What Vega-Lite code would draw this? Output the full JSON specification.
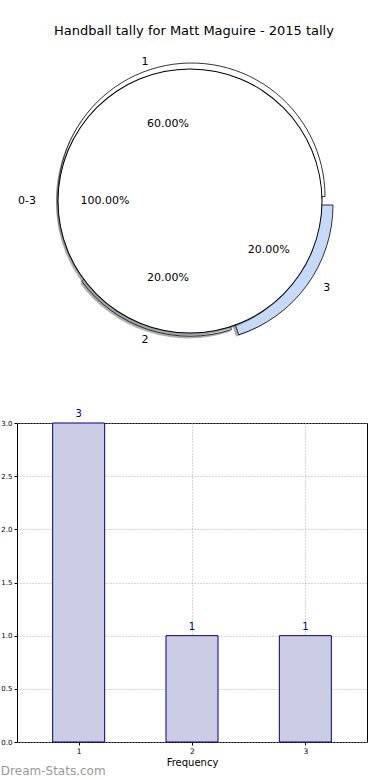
{
  "$schema": "https://vega.github.io/schema/vega-lite/v6.json",
  "padding": {"left": 0, "top": 24, "right": 0, "bottom": 0},
  "bounds": "flush",
  "spacing": 70,
  "config": {"font": "DejaVu Sans", "view": {"stroke": null}},
  "title": {"text": "Handball tally for Matt Maguire - 2015 tally", "fontSize": 13, "fontWeight": "normal", "anchor": "middle", "offset": 0, "dx": 10, "dy": -1, "color": "black"},
  "datasets": {
    "outer": [
      {"label": "1", "count": 3, "pct": "60.00%"},
      {"label": "2", "count": 1, "pct": "20.00%"},
      {"label": "3", "count": 1, "pct": "20.00%"}
    ],
    "inner": [
      {"label": "0-3", "count": 5, "pct": "100.00%"}
    ],
    "bars": [
      {"value": 1, "frequency": 3},
      {"value": 2, "frequency": 1},
      {"value": 3, "frequency": 1}
    ]
  },
  "vconcat": [
    {
      "width": 346,
      "height": 304,
      "layer": [
        {
          "data": {"name": "outer"},
          "transform": [
            {"stack": "count", "groupby": [], "sort": [{"field": "label", "order": "ascending"}], "as": ["t0", "t1"]},
            {"filter": "datum.label == '1'"}
          ],
          "mark": {"type": "arc", "outerRadius": 133.5, "fill": "#4d4d4d", "opacity": 0.45, "xOffset": -0.5, "yOffset": -2},
          "encoding": {
            "theta": {"field": "t0", "type": "quantitative", "scale": {"domain": [0, 5], "range": [1.5707963, -4.712389]}},
            "theta2": {"field": "t1"}
          }
        },
        {
          "data": {"name": "outer"},
          "transform": [
            {"stack": "count", "groupby": [], "sort": [{"field": "label", "order": "ascending"}], "as": ["t0", "t1"]},
            {"filter": "datum.label == '2'"}
          ],
          "mark": {"type": "arc", "outerRadius": 134, "fill": "#4d4d4d", "opacity": 0.45, "xOffset": -1.5, "yOffset": 3.4},
          "encoding": {
            "theta": {"field": "t0", "type": "quantitative", "scale": {"domain": [0, 5], "range": [1.5707963, -4.712389]}},
            "theta2": {"field": "t1"}
          }
        },
        {
          "data": {"name": "outer"},
          "transform": [
            {"stack": "count", "groupby": [], "sort": [{"field": "label", "order": "ascending"}], "as": ["t0", "t1"]},
            {"filter": "datum.label == '3'"}
          ],
          "mark": {"type": "arc", "outerRadius": 136, "fill": "#4d4d4d", "opacity": 0.45, "xOffset": 4, "yOffset": 6.5},
          "encoding": {
            "theta": {"field": "t0", "type": "quantitative", "scale": {"domain": [0, 5], "range": [1.5707963, -4.712389]}},
            "theta2": {"field": "t1"}
          }
        },
        {
          "data": {"name": "outer"},
          "transform": [
            {"stack": "count", "groupby": [], "sort": [{"field": "label", "order": "ascending"}], "as": ["t0", "t1"]},
            {"filter": "datum.label == '1'"}
          ],
          "mark": {"type": "arc", "outerRadius": 133.5, "fill": "white", "stroke": "black", "strokeWidth": 0.8, "xOffset": 1.5, "yOffset": -4.5},
          "encoding": {
            "theta": {"field": "t0", "type": "quantitative", "scale": {"domain": [0, 5], "range": [1.5707963, -4.712389]}},
            "theta2": {"field": "t1"}
          }
        },
        {
          "data": {"name": "outer"},
          "transform": [
            {"stack": "count", "groupby": [], "sort": [{"field": "label", "order": "ascending"}], "as": ["t0", "t1"]},
            {"filter": "datum.label == '2'"}
          ],
          "mark": {"type": "arc", "outerRadius": 134, "fill": "#e3ebfb", "stroke": "black", "strokeWidth": 0.8, "xOffset": 0, "yOffset": 1.2},
          "encoding": {
            "theta": {"field": "t0", "type": "quantitative", "scale": {"domain": [0, 5], "range": [1.5707963, -4.712389]}},
            "theta2": {"field": "t1"}
          }
        },
        {
          "data": {"name": "outer"},
          "transform": [
            {"stack": "count", "groupby": [], "sort": [{"field": "label", "order": "ascending"}], "as": ["t0", "t1"]},
            {"filter": "datum.label == '3'"}
          ],
          "mark": {"type": "arc", "outerRadius": 136.5, "fill": "#c6d9f8", "stroke": "black", "strokeWidth": 0.8, "xOffset": 6.5, "yOffset": 4},
          "encoding": {
            "theta": {"field": "t0", "type": "quantitative", "scale": {"domain": [0, 5], "range": [1.5707963, -4.712389]}},
            "theta2": {"field": "t1"}
          }
        },
        {
          "data": {"name": "inner"},
          "transform": [
            {"stack": "count", "groupby": [], "as": ["t0", "t1"]}
          ],
          "mark": {"type": "arc", "outerRadius": 132, "fill": "#4d4d4d", "opacity": 0.45, "xOffset": -2, "yOffset": 2.5},
          "encoding": {
            "theta": {"field": "t0", "type": "quantitative", "scale": {"domain": [0, 5], "range": [1.5707963, -4.712389]}},
            "theta2": {"field": "t1"}
          }
        },
        {
          "data": {"name": "inner"},
          "transform": [
            {"stack": "count", "groupby": [], "as": ["t0", "t1"]}
          ],
          "mark": {"type": "arc", "outerRadius": 132, "fill": "white"},
          "encoding": {
            "theta": {"field": "t0", "type": "quantitative", "scale": {"domain": [0, 5], "range": [1.5707963, -4.712389]}},
            "theta2": {"field": "t1"}
          }
        },
        {
          "data": {"name": "inner"},
          "transform": [
            {"stack": "count", "groupby": [], "as": ["t0", "t1"]}
          ],
          "mark": {"type": "arc", "innerRadius": 131.5, "outerRadius": 132.5, "fill": "black"},
          "encoding": {
            "theta": {"field": "t0", "type": "quantitative", "scale": {"domain": [0, 5], "range": [1.5707963, -4.712389]}},
            "theta2": {"field": "t1"}
          }
        },
        {
          "data": {"name": "outer"},
          "mark": {"type": "text", "radius": 146, "fontSize": 11, "color": "black"},
          "encoding": {
            "theta": {"field": "count", "type": "quantitative", "stack": true, "scale": {"domain": [0, 5], "range": [1.5707963, -4.712389]}},
            "order": {"field": "label", "type": "ordinal"},
            "text": {"condition": {"test": "datum.label != '3'", "field": "label"}, "value": ""}
          }
        },
        {
          "data": {"name": "outer"},
          "mark": {"type": "text", "radius": 158, "fontSize": 11, "color": "black", "dx": 9, "dy": -6},
          "encoding": {
            "theta": {"field": "count", "type": "quantitative", "stack": true, "scale": {"domain": [0, 5], "range": [1.5707963, -4.712389]}},
            "order": {"field": "label", "type": "ordinal"},
            "text": {"condition": {"test": "datum.label == '3'", "field": "label"}, "value": ""}
          }
        },
        {
          "data": {"name": "outer"},
          "mark": {"type": "text", "radius": 81, "fontSize": 11, "color": "black", "dx": 3},
          "encoding": {
            "theta": {"field": "count", "type": "quantitative", "stack": true, "scale": {"domain": [0, 5], "range": [1.5707963, -4.712389]}},
            "order": {"field": "label", "type": "ordinal"},
            "text": {"condition": {"test": "datum.label != '3'", "field": "pct"}, "value": ""}
          }
        },
        {
          "data": {"name": "outer"},
          "mark": {"type": "text", "radius": 91, "fontSize": 11, "color": "black", "dx": 5, "dy": -4},
          "encoding": {
            "theta": {"field": "count", "type": "quantitative", "stack": true, "scale": {"domain": [0, 5], "range": [1.5707963, -4.712389]}},
            "order": {"field": "label", "type": "ordinal"},
            "text": {"condition": {"test": "datum.label == '3'", "field": "pct"}, "value": ""}
          }
        },
        {
          "data": {"name": "inner"},
          "mark": {"type": "text", "radius": 163, "fontSize": 11, "color": "black"},
          "encoding": {
            "theta": {"field": "count", "type": "quantitative", "stack": true, "scale": {"domain": [0, 5], "range": [1.5707963, -4.712389]}},
            "text": {"field": "label"}
          }
        },
        {
          "data": {"name": "inner"},
          "mark": {"type": "text", "radius": 85, "fontSize": 11, "color": "black"},
          "encoding": {
            "theta": {"field": "count", "type": "quantitative", "stack": true, "scale": {"domain": [0, 5], "range": [1.5707963, -4.712389]}},
            "text": {"field": "pct"}
          }
        }
      ]
    },
    {
      "width": 350,
      "height": 319,
      "data": {"name": "bars"},
      "view": {"stroke": "black", "strokeWidth": 1},
      "title": {"text": "Dream-Stats.com", "orient": "bottom", "anchor": "start", "frame": "bounds", "fontSize": 12, "fontWeight": "normal", "color": "#999999", "offset": -2},
      "encoding": {
        "x": {
          "field": "value", "type": "quantitative",
          "scale": {"domain": [0.5, 3.5], "nice": false, "zero": false},
          "axis": {"values": [1, 2, 3], "format": "d", "title": "Frequency", "labelFontSize": 7.5, "labelColor": "black", "titleFontSize": 10, "titleFontWeight": "normal", "titleColor": "black", "titlePadding": 3, "tickSize": 3, "tickColor": "black", "domain": false, "grid": true, "gridDash": [1, 2], "gridColor": "#a8a8a8"}
        },
        "y": {
          "field": "frequency", "type": "quantitative",
          "scale": {"domain": [0, 3], "nice": false},
          "axis": {"values": [0, 0.5, 1, 1.5, 2, 2.5, 3], "format": ".1f", "title": null, "labelFontSize": 7, "labelColor": "black", "tickSize": 3, "tickColor": "black", "labelPadding": 2, "domain": false, "grid": true, "gridDash": [1, 2], "gridColor": "#a8a8a8"}
        }
      },
      "layer": [
        {"mark": {"type": "bar", "size": 52, "fill": "#ccccE4", "stroke": "#000080", "strokeWidth": 1}},
        {"mark": {"type": "text", "dy": -9, "color": "#000080", "fontSize": 10}, "encoding": {"text": {"field": "frequency", "type": "quantitative"}}}
      ]
    }
  ]
}
